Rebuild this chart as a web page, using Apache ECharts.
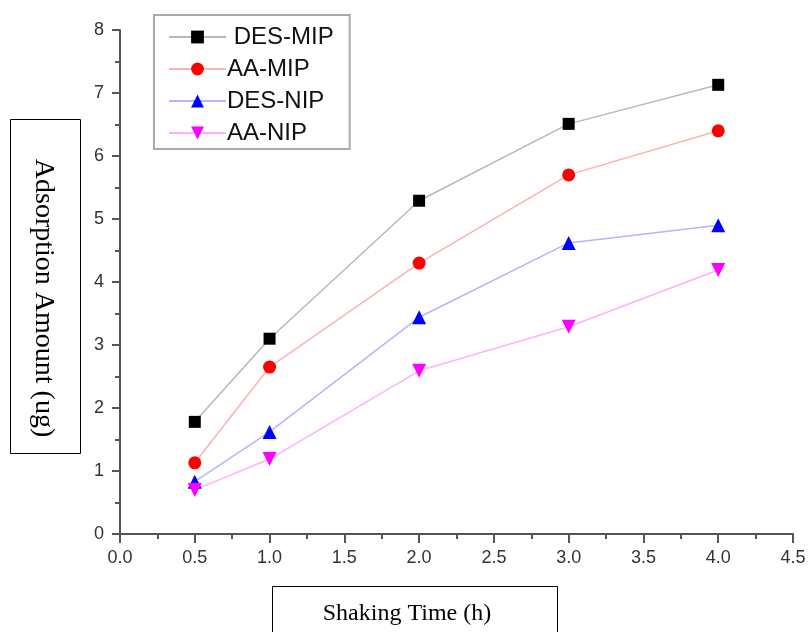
<!DOCTYPE html>
<html>
<head>
<meta charset="utf-8">
<script src="https://cdn.jsdelivr.net/npm/echarts@6/dist/echarts.min.js"></script>
<style>html,body{margin:0;padding:0;background:#fff}#c{width:809px;height:632px}</style>
</head>
<body>
<div id="c"></div>
<script>
var times = [0.5, 1.0, 2.0, 3.0, 4.0];
var desMip = [1.78, 3.10, 5.29, 6.51, 7.13];
var aaMip = [1.13, 2.65, 4.30, 5.70, 6.40];
var desNip = [0.83, 1.62, 3.44, 4.62, 4.90];
var aaNip = [0.70, 1.19, 2.59, 3.29, 4.19];
var seriesNames = ['DES-MIP', 'AA-MIP', 'DES-NIP', 'AA-NIP'];
var xTitle = 'Shaking Time (h)';
var yTitle = 'Adsorption Amount (ug)';

function pairs(vals) { return times.map(function (t, i) { return [t, vals[i]]; }); }

var styles = [
  { sym: 'rect', size: 12, color: '#000000', line: '#b8b8b8', rot: 0 },
  { sym: 'circle', size: 13, color: '#ff0000', line: '#ffb0b0', rot: 0 },
  { sym: 'triangle', size: 14, color: '#0000ff', line: '#b4b4ff', rot: 0 },
  { sym: 'triangle', size: 14, color: '#ff00ff', line: '#ffb0ff', rot: 180 }
];
var data = [desMip, aaMip, desNip, aaNip];

var chart = echarts.init(document.getElementById('c'));
var axisColor = '#555';
chart.setOption({
  animation: false,
  backgroundColor: '#fff',
  grid: { left: 120, right: 16, top: 30, bottom: 98 },
  xAxis: {
    type: 'value', min: 0, max: 4.5, interval: 0.5,
    axisLine: { show: true, onZero: false, lineStyle: { color: axisColor, width: 2 } },
    axisTick: { show: true, inside: false, length: 9, lineStyle: { color: axisColor, width: 2 } },
    minorTick: { show: true, splitNumber: 2, length: 5, lineStyle: { color: axisColor, width: 2 } },
    splitLine: { show: false },
    axisLabel: { margin: 15, fontSize: 18, color: '#333', fontFamily: 'Liberation Sans',
      formatter: function (v) { return v.toFixed(1); } }
  },
  yAxis: {
    type: 'value', min: 0, max: 8, interval: 1,
    axisLine: { show: true, lineStyle: { color: axisColor, width: 2 } },
    axisTick: { show: true, inside: false, length: 8, lineStyle: { color: axisColor, width: 2 } },
    minorTick: { show: true, splitNumber: 2, length: 5, lineStyle: { color: axisColor, width: 2 } },
    splitLine: { show: false },
    axisLabel: { margin: 16, fontSize: 18, color: '#333', fontFamily: 'Liberation Sans' }
  },
  legend: {
    orient: 'vertical', left: 154, top: 15,
    padding: [10, 16, 4, 14],
    itemWidth: 57, itemHeight: 16, itemGap: 8,
    borderColor: '#aaa', borderWidth: 2,
    textStyle: { fontSize: 24, color: '#111', fontFamily: 'Liberation Sans', padding: [0, 0, 0, -4] },
    formatter: function (n) { return n === 'DES-MIP' ? ' ' + n : n; },
    data: seriesNames
  },
  series: seriesNames.map(function (n, i) {
    var s = styles[i];
    return {
      name: n, type: 'line', data: pairs(data[i]),
      symbol: s.sym, symbolSize: s.size, symbolRotate: s.rot,
      itemStyle: { color: s.color },
      lineStyle: { color: s.line, width: 1.5 },
      emphasis: { disabled: true }
    };
  }),
  graphic: [
    { type: 'rect', shape: { x: 10.5, y: 119.5, width: 70, height: 334 },
      style: { fill: 'none', stroke: '#000', lineWidth: 1 } },
    { type: 'text', x: 43, y: 298, rotation: -Math.PI / 2,
      style: { text: yTitle, fontSize: 28, fontFamily: 'Liberation Serif', fill: '#000',
        align: 'center', verticalAlign: 'middle' } },
    { type: 'rect', shape: { x: 272.5, y: 586.5, width: 285, height: 60 },
      style: { fill: 'none', stroke: '#000', lineWidth: 1 } },
    { type: 'text', x: 407, y: 614,
      style: { text: xTitle, fontSize: 24, fontFamily: 'Liberation Serif', fill: '#000',
        align: 'center', verticalAlign: 'middle' } }
  ]
});
</script>
</body>
</html>
